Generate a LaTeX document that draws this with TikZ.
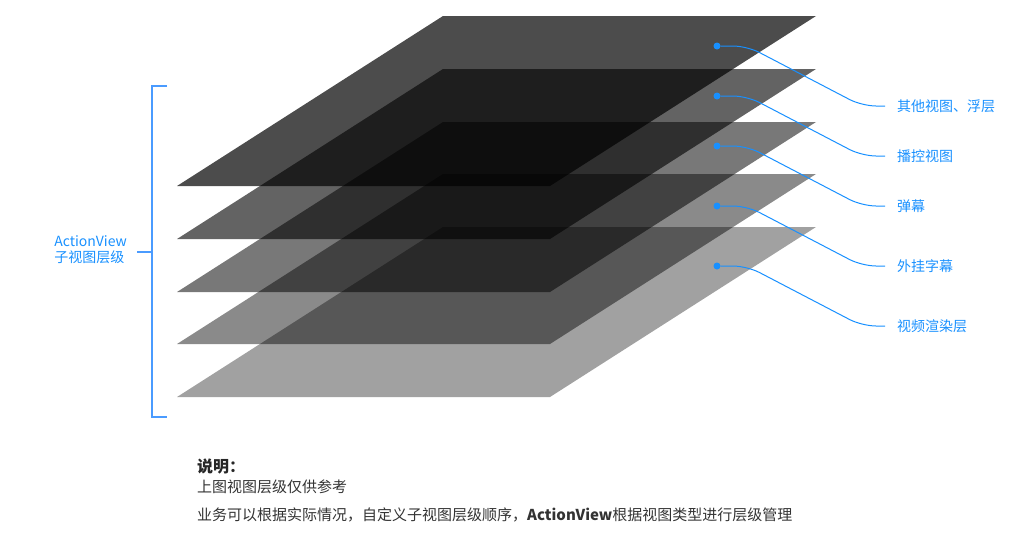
\documentclass[tikz,border=0pt]{standalone}
\usepackage{fontspec}
\setmainfont{Noto Sans CJK SC}
\definecolor{linkblue}{HTML}{1890FF}
\definecolor{bracketblue}{HTML}{4A9BFF}
\definecolor{notegray}{HTML}{333333}
\tikzset{
    layer/.style={fill=black},
    dot/.style={circle, fill=linkblue, inner sep=0pt, minimum size=7pt},
    conn/.style={draw=linkblue, line width=1pt, rounded corners=14pt},
    layerlabel/.style={anchor=west, inner sep=0pt, text=linkblue, font=\fontsize{14}{16}\selectfont},
    note/.style={anchor=west, inner sep=0pt, text=notegray, font=\fontsize{15}{18}\selectfont}
}
\begin{document}
\begin{tikzpicture}[x=1pt, y=-1pt]
            \useasboundingbox (0,0) rectangle (1013,542);

            % Layers
            \fill[layer, fill opacity=0.70] (443,16) -- (816,16) -- (550,186) -- (177,186) -- cycle;
            \fill[layer, fill opacity=0.61] (443,69) -- (816,69) -- (550,239) -- (177,239) -- cycle;
            \fill[layer, fill opacity=0.53] (443,122) -- (816,122) -- (550,292) -- (177,292) -- cycle;
            \fill[layer, fill opacity=0.46] (443,174) -- (816,174) -- (550,344) -- (177,344) -- cycle;
            \fill[layer, fill opacity=0.37] (443,227) -- (816,227) -- (550,397) -- (177,397) -- cycle;

            % Labels
            \node(other) [layerlabel] at (897,106) {其他视图、浮层};
            \node(control) [layerlabel] at (897,156) {播控视图};
            \node(danmaku) [layerlabel] at (897,206) {弹幕};
            \node(subtitle) [layerlabel] at (897,266) {外挂字幕};
            \node(render) [layerlabel] at (897,326) {视频渲染层};

            % Dots
            \node(dot-other) [dot] at (717,46) {};
            \node(dot-control) [dot] at (717,96) {};
            \node(dot-danmaku) [dot] at (717,146) {};
            \node(dot-subtitle) [dot] at (717,206) {};
            \node(dot-render) [dot] at (717,266) {};

            % Draw Lines
            \draw[conn] (dot-other) -- ++(30,0) -- ([xshift=-35]other.west) -- ([xshift=-12]other.west);
            \draw[conn] (dot-control) -- ++(30,0) -- ([xshift=-35]control.west) -- ([xshift=-12]control.west);
            \draw[conn] (dot-danmaku) -- ++(30,0) -- ([xshift=-35]danmaku.west) -- ([xshift=-12]danmaku.west);
            \draw[conn] (dot-subtitle) -- ++(30,0) -- ([xshift=-35]subtitle.west) -- ([xshift=-12]subtitle.west);
            \draw[conn] (dot-render) -- ++(30,0) -- ([xshift=-35]render.west) -- ([xshift=-12]render.west);

            % Bracket
            \node(actionview) [anchor=east, align=left, inner sep=0pt, text=linkblue,
            font=\fontsize{14}{16}\selectfont] at (127,250) {ActionView\\子视图层级};
            \coordinate(br-top) at (167,86);
            \coordinate(br-bottom) at (167,417);
            \coordinate(br-mid) at (152,252);
            \draw[bracketblue, line width=2pt] (br-top) -- ++(-15,0) |- (br-bottom);
            \draw[bracketblue, line width=2pt] (br-mid) -- ([xshift=10pt]actionview.east |- br-mid);

            % Note
            \node(note-title) [note, font=\fontsize{16}{18}\selectfont\bfseries, text=black!85] at (197,466) {说明：};
            \node(note-first) [note] at (197,487) {上图视图层级仅供参考};
            \node(note-second) [note] at (197,515) {业务可以根据实际情况，自定义子视图层级顺序，\textbf{ActionView}根据视图类型进行层级管理};

        \end{tikzpicture}
\end{document}
